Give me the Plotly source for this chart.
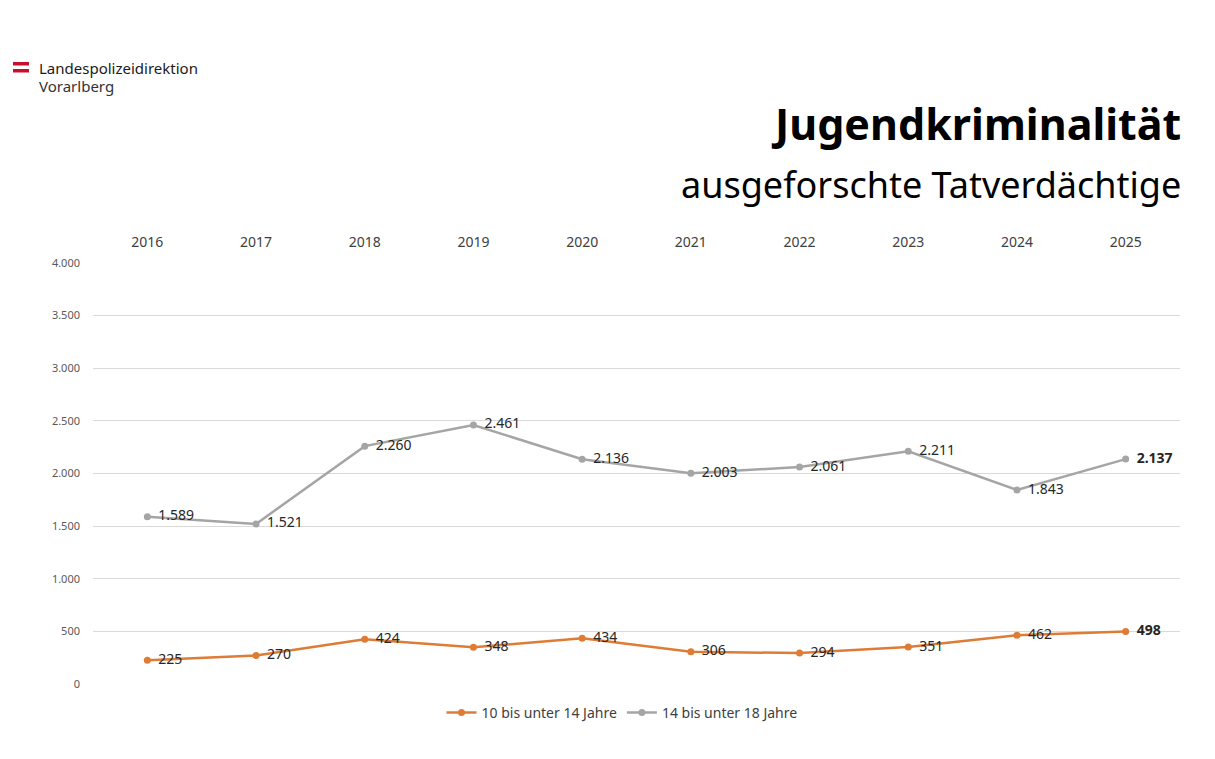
import plotly.graph_objects as go

years = ["2016", "2017", "2018", "2019", "2020", "2021", "2022", "2023", "2024", "2025"]
age_10_14 = [225, 270, 424, 348, 434, 306, 294, 351, 462, 498]
age_14_18 = [1589, 1521, 2260, 2461, 2136, 2003, 2061, 2211, 1843, 2137]
series_names = ["10 bis unter 14 Jahre", "14 bis unter 18 Jahre"]
y_ticks = [0, 500, 1000, 1500, 2000, 2500, 3000, 3500, 4000]

W, H = 1215, 759
L, R, T, B = 93, 1180, 263, 684

def px(x):
    return (x - L) / (R - L)

def py(y):
    return (B - y) / (B - T)

def fmt(v):
    return f"{v:,}".replace(",", ".")

def labels(vals):
    out = [fmt(v) for v in vals]
    out[-1] = "<b>" + out[-1] + "</b>"
    return out

ORANGE = "#DE7C36"
GREY = "#A5A5A5"
FONT = "Noto Sans, Open Sans, sans-serif"

fig = go.Figure()
for name, vals, col in [(series_names[0], age_10_14, ORANGE), (series_names[1], age_14_18, GREY)]:
    fig.add_trace(go.Scatter(
        x=years, y=vals, name=name, mode="lines+markers",
        line=dict(color=col, width=2.5),
        marker=dict(color=col, size=7),
        hoverinfo="skip",
    ))
for vals, col in [(age_10_14, ORANGE), (age_14_18, GREY)]:
    fig.add_trace(go.Scatter(
        x=years, y=vals, mode="markers+text", showlegend=False,
        marker=dict(color=col, size=16, opacity=0),
        text=labels(vals), textposition="middle right",
        textfont=dict(size=14, color="#262626", family=FONT),
        cliponaxis=False,
    ))

fig.update_layout(
    width=W, height=H,
    margin=dict(l=L, r=W - R, t=T, b=H - B),
    paper_bgcolor="white", plot_bgcolor="white",
    separators=",.",
    font=dict(family=FONT, color="#404040"),
    showlegend=True,
    legend=dict(orientation="h", x=px(622), xanchor="center", y=py(713), yanchor="middle",
                font=dict(size=14, color="#404040"), itemwidth=30),
    xaxis=dict(type="category", side="top", range=[-0.5, 9.5], showgrid=False,
               showline=False, ticks="", tickfont=dict(size=14, color="#404040"),
               ticklabelstandoff=12),
    yaxis=dict(range=[0, 4000], tickvals=y_ticks, tickformat=",", showgrid=True,
               gridcolor="#D9D9D9", gridwidth=1, zeroline=False, showline=False,
               ticks="", tickfont=dict(size=11, color="#595959"), ticklabelstandoff=12),
    shapes=[
        dict(type="rect", xref="paper", yref="paper", x0=px(13), x1=px(29), y0=py(62), y1=py(65.5),
             fillcolor="#C8102E", line=dict(width=0)),
        dict(type="rect", xref="paper", yref="paper", x0=px(13), x1=px(29), y0=py(69), y1=py(72.5),
             fillcolor="#C8102E", line=dict(width=0)),
    ],
    annotations=[
        dict(text="Landespolizeidirektion", xref="paper", yref="paper", x=px(37), y=py(68),
             xanchor="left", yanchor="middle", showarrow=False,
             font=dict(size=15, color="#1a1a1a", family=FONT)),
        dict(text="Vorarlberg", xref="paper", yref="paper", x=px(37), y=py(86),
             xanchor="left", yanchor="middle", showarrow=False,
             font=dict(size=15, color="#333333", family=FONT)),
        dict(text="<b>Jugendkriminalität</b>", xref="paper", yref="paper", x=px(1183), y=py(123),
             xanchor="right", yanchor="middle", showarrow=False,
             font=dict(size=43, color="#000000", family=FONT)),
        dict(text="ausgeforschte Tatverdächtige", xref="paper", yref="paper", x=px(1183), y=py(184),
             xanchor="right", yanchor="middle", showarrow=False,
             font=dict(size=36, color="#000000", family=FONT)),
    ],
)

fig.write_html("out.html")
